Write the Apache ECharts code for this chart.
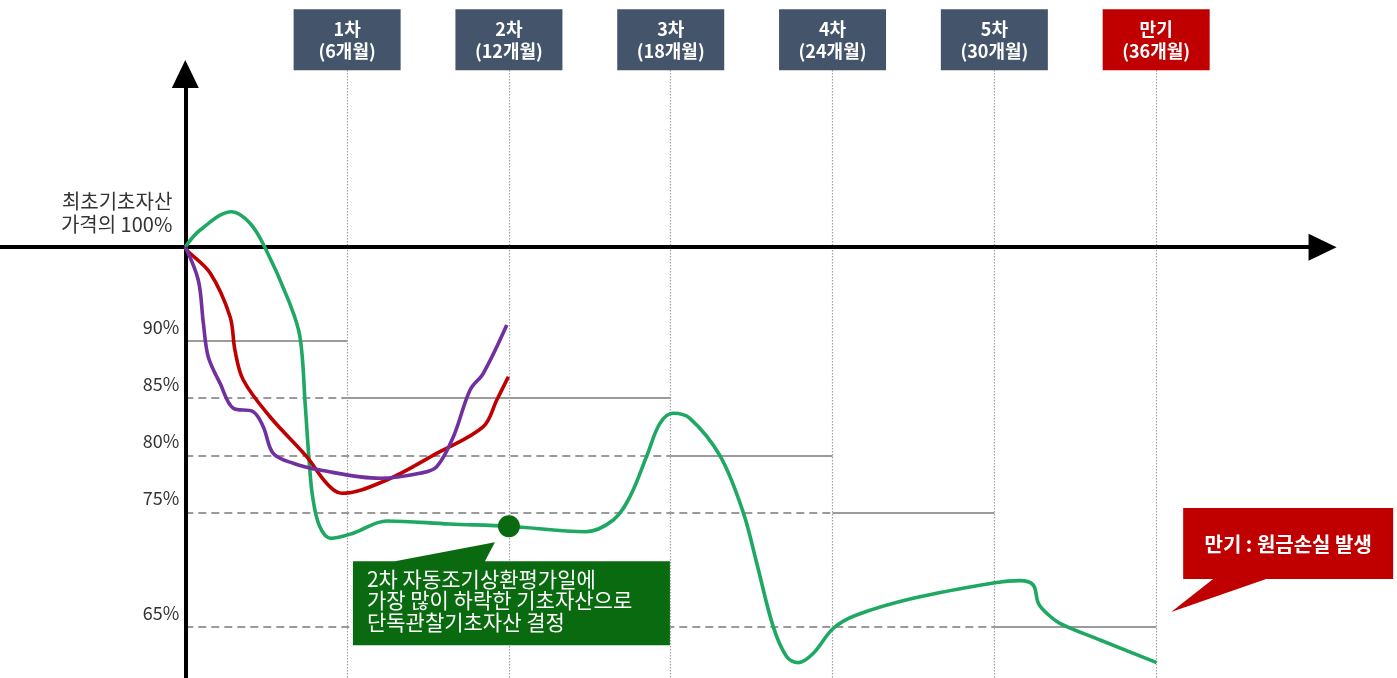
<!DOCTYPE html>
<html>
<head>
<meta charset="utf-8">
<script src="https://cdn.jsdelivr.net/npm/echarts@6/dist/echarts.min.js"></script>
<style>
html,body{margin:0;padding:0;background:#fff;}
#chart{width:1397px;height:678px;}
</style>
</head>
<body>
<div id="chart"></div>
<script>
// ---------- DATA ----------
const obsMonths = [6, 12, 18, 24, 30, 36];
const obsNames = ['1차', '2차', '3차', '4차', '5차', '만기'];
const barriers = [90, 85, 85, 80, 75, 65];
const levelValues = [90, 85, 80, 75, 65];
const levelTicks = ['90%', '85%', '80%', '75%', '65%'];
const startLevel = 98.2;           // level where the diagram draws "100%"
const startLabel = '최초기초자산\n가격의 100%';

const greenAsset = [[0,98.22],[0.55,99.7],[1.72,101.3],[2.4,100.3],[2.95,98.2],[3.82,93.6],[4.25,90.4],
  [4.45,84.3],[4.58,79.9],[4.72,76.4],[4.98,73.8],[5.4,72.75],[6.22,73.2],[7.47,74.27],[9.8,74.0],
  [12.0,73.8],[14.84,73.33],[15.87,74.35],[16.49,76.4],[17.11,79.95],[17.6,82.8],[18.09,83.68],
  [18.71,83.24],[19.83,79.95],[20.69,75.0],[21.19,70.57],[21.8,65.03],[22.3,62.4],[22.73,61.88],
  [23.29,62.7],[24.03,64.89],[24.89,66.05],[26.99,67.51],[30.02,68.87],[30.95,69.05],[31.44,68.67],
  [31.63,67.07],[31.94,66.2],[32.43,65.32],[33.92,63.86],[36.02,61.88]];
const redAsset = [[0,98.22],[0.05,97.95],[0.92,95.94],[1.66,92.12],[1.84,89.21],[2.15,86.59],[3.14,83.38],
  [4.5,79.89],[5.24,77.56],[5.8,76.69],[7.47,77.85],[9.32,80.18],[11.05,82.51],[11.55,84.84],[11.98,86.88]];
const purpleAsset = [[0,98.22],[0.48,95.33],[0.67,91.55],[0.85,88.63],[1.29,86.3],[1.78,84.12],[2.52,83.82],
  [2.89,82.51],[3.26,80.18],[4.0,79.31],[4.99,78.72],[7.22,78.0],[8.7,78.44],[9.32,79.01],[9.94,81.63],
  [10.56,85.72],[11.05,87.18],[11.92,91.4]];
const decisionPoint = [12, 73.8];
const decisionText = '2차 자동조기상환평가일에\n가장 많이 하락한 기초자산으로\n단독관찰기초자산 결정';
const maturityPoint = [36, 65];
const maturityText = '만기 : 원금손실 발생';

// ---------- LAYOUT (axis ranges chosen to fit the canvas) ----------
const X_MIN = -6.871, X_MAX = 44.93;
const Y_MIN = 60.54, Y_MAX = 119.81;
const X_AXIS_END = 42.17, Y_AXIS_END = 113.34;
const BOX_Y = 116.34, BOX_BOTTOM = 113.69;
const FONT = '"Noto Sans CJK KR", "Noto Sans", sans-serif';

// threshold segments
const segs = {};
barriers.forEach((b, i) => {
  const s = i ? obsMonths[i - 1] : 0, e = obsMonths[i];
  if (!segs[b]) segs[b] = { s, e };
  else { segs[b].s = Math.min(segs[b].s, s); segs[b].e = Math.max(segs[b].e, e); }
});
const thresholdLines = [];
Object.keys(segs).forEach(k => {
  const b = +k, sg = segs[k];
  thresholdLines.push([{ coord: [sg.s, b], lineStyle: { type: 'solid' } }, { coord: [sg.e, b] }]);
  if (sg.s > 0) thresholdLines.push([{ coord: [0, b], lineStyle: { type: [8, 5] } }, { coord: [sg.s, b] }]);
});

const verticalLines = obsMonths.map(m => [{ coord: [m, BOX_BOTTOM] }, { coord: [m, Y_MIN] }]);

const chart = echarts.init(document.getElementById('chart'), null, { renderer: 'canvas' });

const curve = (name, data, color) => ({
  name, type: 'line', data, smooth: 0.35, symbol: 'none', z: 5,
  lineStyle: { color, width: 3.6 }, silent: true
});

chart.setOption({
  animation: false,
  backgroundColor: '#ffffff',
  grid: { left: 0, right: 0, top: 0, bottom: 0 },
  xAxis: { type: 'value', min: X_MIN, max: X_MAX, show: false },
  yAxis: { type: 'value', min: Y_MIN, max: Y_MAX, show: false },
  series: [
    { // reference lines
      type: 'line', data: [], silent: true, z: 2,
      markLine: {
        silent: true, symbol: 'none', label: { show: false },
        lineStyle: { color: '#7a7a7a', width: 1.7 },
        data: thresholdLines
      }
    },
    { // observation date lines
      type: 'line', data: [], silent: true, z: 1,
      markLine: {
        silent: true, symbol: 'none', label: { show: false },
        lineStyle: { color: '#a0a0a0', width: 1.2, type: [1.5, 1.5] },
        data: verticalLines
      }
    },
    { // axes with arrows
      type: 'line', data: [], silent: true, z: 4,
      markLine: {
        silent: true, symbol: ['none', 'triangle'], symbolSize: [27, 28], label: { show: false },
        lineStyle: { color: '#000', width: 4, type: 'solid' },
        itemStyle: { color: '#000' },
        data: [
          [{ coord: [X_MIN, startLevel] }, { coord: [X_AXIS_END, startLevel] }],
          [{ coord: [0, Y_MIN] }, { coord: [0, Y_AXIS_END] }]
        ]
      }
    },
    curve('green', greenAsset, '#1fa862'),
    curve('red', redAsset, '#c00000'),
    curve('purple', purpleAsset, '#7030a0'),
    { // level tick labels
      type: 'scatter', symbolSize: 0, silent: true, z: 6, itemStyle: { opacity: 1 },
      data: levelValues.map((v, i) => ({ value: [0, v], name: levelTicks[i] })),
      label: {
        show: true, position: 'left', distance: 6, offset: [0, -14],
        formatter: p => p.name, color: '#333333', fontSize: 18, fontFamily: FONT
      }
    },
    { // start level label
      type: 'scatter', symbolSize: 0, silent: true, z: 6, itemStyle: { opacity: 1 },
      data: [{ value: [0, startLevel], name: startLabel }],
      label: {
        show: true, position: 'left', distance: 13, offset: [0, -34], align: 'right',
        formatter: p => p.name, color: '#333333', fontSize: 20, lineHeight: 23, fontFamily: FONT
      }
    },
    { // observation boxes
      type: 'scatter', symbol: 'rect', symbolSize: [107, 61], silent: true, z: 6,
      data: obsMonths.map((m, i) => ({
        value: [m, BOX_Y], name: obsNames[i],
        itemStyle: { color: i === obsMonths.length - 1 ? '#c00000' : '#44546a', opacity: 1 }
      })),
      label: {
        show: true, position: 'inside',
        formatter: p => p.name + '\n(' + p.value[0] + '개월)',
        color: '#fff', fontSize: 18, fontWeight: 'bold', lineHeight: 22, fontFamily: FONT
      }
    },
    { // decision dot
      type: 'scatter', symbol: 'circle', symbolSize: 22, silent: true, z: 8,
      data: [decisionPoint], itemStyle: { color: '#0a6a0f', opacity: 1 }
    },
    { // green callout
      type: 'custom', silent: true, z: 9,
      data: [decisionPoint],
      renderItem: (params, api) => {
        const p = api.coord([api.value(0), api.value(1)]);
        const x = p[0], y = p[1];
        return {
          type: 'group', children: [
            { type: 'polygon', shape: { points: [[x - 156, y + 35], [x - 114, y + 35], [x - 14, y + 16], [x - 24, y + 35], [x + 161, y + 35], [x + 161, y + 119], [x - 156, y + 119]] }, style: { fill: '#0a6a0f' } },
            { type: 'text', style: { text: decisionText, x: x - 142, y: y + 74, fill: '#fff', fontSize: 21, lineHeight: 21.5, fontFamily: FONT, verticalAlign: 'middle', align: 'left' } }
          ]
        };
      }
    },
    { // red callout
      type: 'custom', silent: true, z: 9,
      data: [maturityPoint],
      renderItem: (params, api) => {
        const p = api.coord([api.value(0), api.value(1)]);
        const x = p[0], y = p[1];
        return {
          type: 'group', children: [
            { type: 'polygon', shape: { points: [[x + 27, y - 119], [x + 237, y - 119], [x + 237, y - 48], [x + 110, y - 48], [x + 15, y - 15], [x + 57, y - 48], [x + 27, y - 48]] }, style: { fill: '#c00000' } },
            { type: 'text', style: { text: maturityText, x: x + 132, y: y - 83, fill: '#fff', fontSize: 20, fontWeight: 'bold', fontFamily: FONT, verticalAlign: 'middle', align: 'center' } }
          ]
        };
      }
    }
  ]
});
</script>
</body>
</html>
